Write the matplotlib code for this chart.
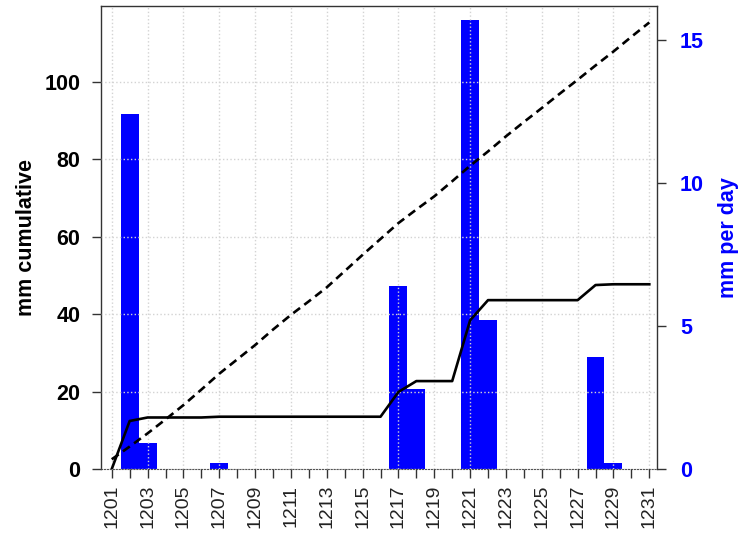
import numpy as np
import matplotlib
matplotlib.use("Agg")
import matplotlib.pyplot as plt

plt.rcParams['font.family'] = ['Liberation Sans', 'DejaVu Sans']

# day labels (December, MMDD)
day_labels = [str(d) for d in range(1201, 1232)]

# daily rain, mm per day (right axis)
rain_daily = [0.0, 12.4, 0.9, 0.0, 0.0, 0.0, 0.2, 0.0, 0.0, 0.0,
              0.0, 0.0, 0.0, 0.0, 0.0, 0.0, 6.4, 2.8, 0.0, 0.0,
              15.7, 5.2, 0.0, 0.0, 0.0, 0.0, 0.0, 3.9, 0.2, 0.0, 0.0]

# cumulative rain, mm (left axis, solid)
rain_cum = [0.0, 12.4, 13.3, 13.3, 13.3, 13.3, 13.5, 13.5, 13.5, 13.5,
            13.5, 13.5, 13.5, 13.5, 13.5, 13.5, 19.9, 22.7, 22.7, 22.7,
            38.4, 43.6, 43.6, 43.6, 43.6, 43.6, 43.6, 47.5, 47.7, 47.7, 47.7]

# cumulative reference (left axis, dashed)
ref_cum = [2.5, 5.8, 9.2, 12.8, 16.5, 20.5, 24.6, 28.3, 32.0, 36.0,
           39.8, 43.3, 46.9, 51.1, 55.3, 59.4, 63.5, 67.0, 70.4, 74.3,
           78.3, 82.0, 85.9, 89.6, 93.2, 96.9, 100.5, 104.2, 107.8, 111.6, 115.3]

x = np.arange(len(day_labels))
FS = 15.5

fig = plt.figure(figsize=(7.47, 5.33), dpi=100)
ax = fig.add_axes([101 / 747, 1 - 469 / 533, 556 / 747, 463 / 533])
ax2 = ax.twinx()

# bars on the right-hand (daily) scale
ax.bar(x, rain_daily, width=1.0, color='#0000ff', linewidth=0, zorder=1)
ax.set_xlim(-0.6, 30.43)
ax.set_ylim(0, 16.19)
ax.yaxis.tick_right()
ax.yaxis.set_label_position('right')
ax.set_yticks([0, 5, 10, 15])
ax.tick_params(axis='y', colors='#333333', labelcolor='#0000ff', labelsize=FS,
               length=6.5, width=1.0, pad=10, direction='out')
for t in ax.get_yticklabels():
    t.set_fontweight('bold')
ax.set_ylabel('mm per day', color='#0000ff', fontsize=FS, fontweight='bold')
ax.yaxis.set_label_coords((718 - 101) / 556, 0.5)

ax.set_xticks(x[::2])
ax.set_xticklabels(day_labels[::2], rotation=90)
ax.set_xticks(x[1::2], minor=True)
ax.tick_params(axis='x', which='both', length=6.5, width=1.0, colors='#333333',
               labelcolor='#222222', labelsize=14, pad=5, direction='out')
ax.grid(axis='x', which='major', color='#d3d3d3', linestyle=':', linewidth=1.0)
ax.set_axisbelow(False)

for side in ['left', 'top', 'right']:
    ax.spines[side].set_color('#333333')
    ax.spines[side].set_linewidth(1.0)
ax.spines['bottom'].set_linestyle(':')
ax.spines['bottom'].set_color('#555555')

# cumulative lines on the left-hand scale
ax2.yaxis.tick_left()
ax2.yaxis.set_label_position('left')
ax2.set_ylim(0, 119.55)
ax2.set_yticks(range(0, 101, 20))
ax2.tick_params(axis='y', colors='#333333', labelcolor='black', labelsize=FS,
                length=6.5, width=1.0, pad=8.4, direction='out')
for t in ax2.get_yticklabels():
    t.set_fontweight('bold')
ax2.grid(axis='y', color='#d3d3d3', linestyle=':', linewidth=1.0)
ax2.plot(x, rain_cum, color='black', linewidth=1.9, zorder=3)
ax2.plot(x, ref_cum, color='black', linewidth=1.9, linestyle=(0, (3.2, 2.0)), zorder=3)
ax2.set_ylabel('mm cumulative', fontsize=FS, fontweight='bold')
ax2.yaxis.set_label_coords((36.7 - 101) / 556, 0.5)
for s in ax2.spines.values():
    s.set_visible(False)

fig.savefig('out.png', dpi=100)
